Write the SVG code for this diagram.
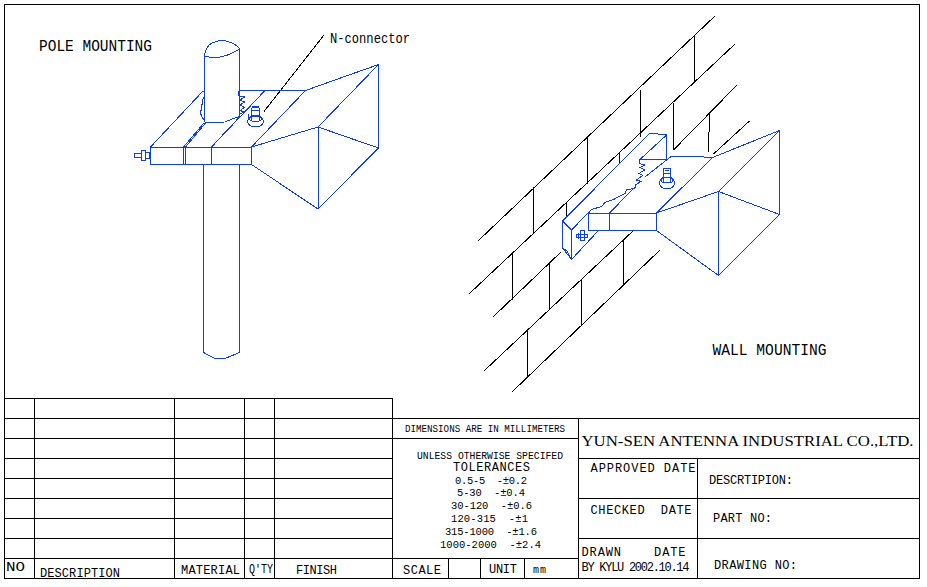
<svg xmlns="http://www.w3.org/2000/svg" width="927" height="587" viewBox="0 0 927 587">
<style>
.k{fill:none;stroke:#000;stroke-width:1;shape-rendering:crispEdges}
.b{fill:none;stroke:#0a3cff;stroke-width:1;shape-rendering:crispEdges}
.t{font-family:"Liberation Mono",monospace;fill:#000;white-space:pre}
.s{font-size:12px}.xs{font-size:10px}.m{font-size:14px}.l{font-size:16px}.n{font-size:10.5px}
.r{font-family:"Liberation Serif",serif;font-size:15.5px;fill:#000}
</style>
<rect width="927" height="587" fill="#fff"/>
<g id="wall" class="k">
<path d="M478.5 240.5L715.5 15.5M469.5 293.5L735 44M493.5 316.5L561.5 251.5M673.5 150L736.5 85.5M484.5 370.5L633.5 230.5M713.5 154L749.5 121M512.5 391.5L660.5 249.5"/>
<path d="M533.5 187V234M587.5 137V184M640.5 90V137M694.5 36V83M512.5 253V300M566.5 203V217M619.5 153V163M673.5 103V150M709.5 113L708.5 152M549.5 263V310M527.5 330V377M581.5 279V326M623.5 239V285"/>
</g>
<g id="leader" class="k"><path d="M264 111.5L324 35"/></g>
<g id="pole-mounting" class="b">
<path d="M204.5 122V56M239.5 117V49"/>
<path d="M204.5 56Q205 47 212 43Q222 38 232 43Q238 46 239.5 49M204.5 56Q221 61 239.5 49"/>
<path d="M203.5 164.5V352.5L215 358.5H225L239.5 352.5V164.5"/>
<path d="M206 122.5L225 122L232 119L240 116.5L211.5 147M238.5 90.5H305.5M238.5 90.5V96M203 91L150.5 147M183.5 147L204 123M185.5 147L206 122.5M251.5 147L305.5 90.5M211.5 147L265 90.5"/>
<path d="M203 91H204.5M204.5 97L202 100L203 103L201 106L202 109L200 112L202 117L204.5 121"/>
<path d="M239.5 96L244.5 97L240 100L244.5 102L240 105L244.5 107.5L240 110.5L244.5 112L239.5 114"/>
<rect x="150.5" y="147.5" width="101" height="17"/>
<path d="M183.5 147V164M185.5 147V164M211.5 147V164"/>
<path d="M251.5 147L318 127L378.5 64.5L305.5 90.5M251.5 164.5L318 209L378.5 148L318 127M318.5 127V209M378.5 64.5V148"/>
<rect x="134.5" y="153.5" width="7" height="4"/><rect x="141.5" y="150.5" width="4" height="10"/><rect x="145.5" y="152.5" width="4" height="6"/>
<ellipse cx="255.5" cy="121.5" rx="8" ry="5.5"/><ellipse cx="255.5" cy="118.5" rx="6" ry="3"/>
<path d="M251.5 109V120M259.5 109V120M248 114V118M252 106.5H259"/><ellipse cx="255.5" cy="109" rx="4" ry="2"/>
</g>
<g id="wall-mounting" class="b">
<path d="M562.5 221L571.5 230V259.5L562.5 248V221L649.5 133.5L666.5 134.5V159.5H640L666.5 135M571.5 230L589 212M571.5 259.5L597.5 231.5M562.5 248L567 251L571.5 259.5"/>
<path d="M639.5 159.5V163.5L645 165L640 167.5L644.5 170L639 173.5L642.5 175.5L636.5 180L641 181.5L635 185V188L626.5 190L625 193.5L613.5 199.5L605 202.5L601.5 206.5L591.5 209.5L588.5 213"/>
<path d="M609.5 213L635 187M645 177L671 156.5H695L712.5 157.5M656.5 213L712.5 157.5"/>
<rect x="588.5" y="213.5" width="68" height="17"/><path d="M609.5 213V230"/>
<path d="M656.5 213L718.5 191.5L779.5 130.5L712.5 157.5M656.5 230.5L718.5 275.5L779.5 214.5L718.5 191.5M718.5 191.5V275M779.5 130.5V214.5"/>
<rect x="576.5" y="234.5" width="11" height="3"/><rect x="580.5" y="230.5" width="4" height="10"/><path d="M578.5 233V239"/>
<ellipse cx="667" cy="183" rx="7.5" ry="6"/><ellipse cx="667" cy="180" rx="6" ry="3"/>
<rect x="663.5" y="168.5" width="7" height="14"/><path d="M663.5 173.5H670.5M665 170.5H669"/>
</g>
<g id="title-block" class="k">
<rect x="4.5" y="4.5" width="915" height="574"/>
<path d="M4.5 398.5H392.5M4.5 418.5H919.5M4.5 438.5H578.5M4.5 458.5H392.5M578.5 458.5H919.5M4.5 478.5H392.5M4.5 498.5H392.5M578.5 498.5H919.5M4.5 518.5H392.5M4.5 538.5H392.5M578.5 538.5H919.5M4.5 558.5H578.5"/>
<path d="M34.5 398.5V578.5M174.5 398.5V578.5M244.5 398.5V578.5M274.5 398.5V578.5M392.5 398.5V578.5M578.5 418.5V578.5M697.5 458.5V578.5M448.5 558.5V578.5M480.5 558.5V578.5M524.5 558.5V578.5"/>
</g>
<g id="labels">
<text class="t l" x="39" y="51" textLength="113" lengthAdjust="spacingAndGlyphs">POLE MOUNTING</text>
<text class="t m" x="330" y="43" textLength="80" lengthAdjust="spacingAndGlyphs">N-connector</text>
<text class="t l" x="712.5" y="354.5" textLength="114" lengthAdjust="spacingAndGlyphs">WALL MOUNTING</text>
<text class="t xs" x="405" y="432" textLength="160" lengthAdjust="spacingAndGlyphs">DIMENSIONS ARE IN MILLIMETERS</text>
<text class="t xs" x="417" y="459" textLength="146" lengthAdjust="spacingAndGlyphs">UNLESS OTHERWISE SPECIFED</text>
<text class="t s" x="453" y="471" textLength="77">TOLERANCES</text>
<text class="t n" x="455" y="483.5" textLength="72">0.5-5  -±0.2</text>
<text class="t n" x="457" y="495.5" textLength="68">5-30  -±0.4</text>
<text class="t n" x="451" y="509" textLength="81">30-120  -±0.6</text>
<text class="t n" x="451" y="521.5" textLength="77">120-315  -±1</text>
<text class="t n" x="445" y="535" textLength="92">315-1000  -±1.6</text>
<text class="t n" x="440" y="547.5" textLength="101">1000-2000  -±2.4</text>
<text class="t s" x="403" y="574" textLength="38">SCALE</text>
<text class="t s" x="489" y="573" textLength="28">UNIT</text>
<text class="t xs" x="533" y="573" textLength="13">mm</text>
<text class="r" x="581.5" y="446" textLength="332" lengthAdjust="spacingAndGlyphs">YUN-SEN ANTENNA INDUSTRIAL CO.,LTD.</text>
<text class="t s" x="590.5" y="472" textLength="105">APPROVED DATE</text>
<text class="t s" x="709" y="483.5" textLength="84">DESCRTIPION:</text>
<text class="t s" x="590.5" y="513.5" textLength="101">CHECKED  DATE</text>
<text class="t s" x="713" y="522" textLength="59">PART NO:</text>
<text class="t s" x="581.5" y="556" textLength="104">DRAWN    DATE</text>
<text class="t s" x="581.5" y="571" textLength="108">BY KYLU 2002.10.14</text>
<text class="t s" x="714" y="569" textLength="83">DRAWING NO:</text>
<text class="t s" x="6" y="571" textLength="19" lengthAdjust="spacingAndGlyphs">NO</text>
<text class="t s" x="40" y="576.5" textLength="80">DESCRIPTION</text>
<text class="t s" x="181" y="574" textLength="59">MATERIAL</text>
<text class="t s" x="249" y="572.5" textLength="24" lengthAdjust="spacingAndGlyphs">Q'TY</text>
<text class="t s" x="296" y="573.5" textLength="41">FINISH</text>
</g>
</svg>
